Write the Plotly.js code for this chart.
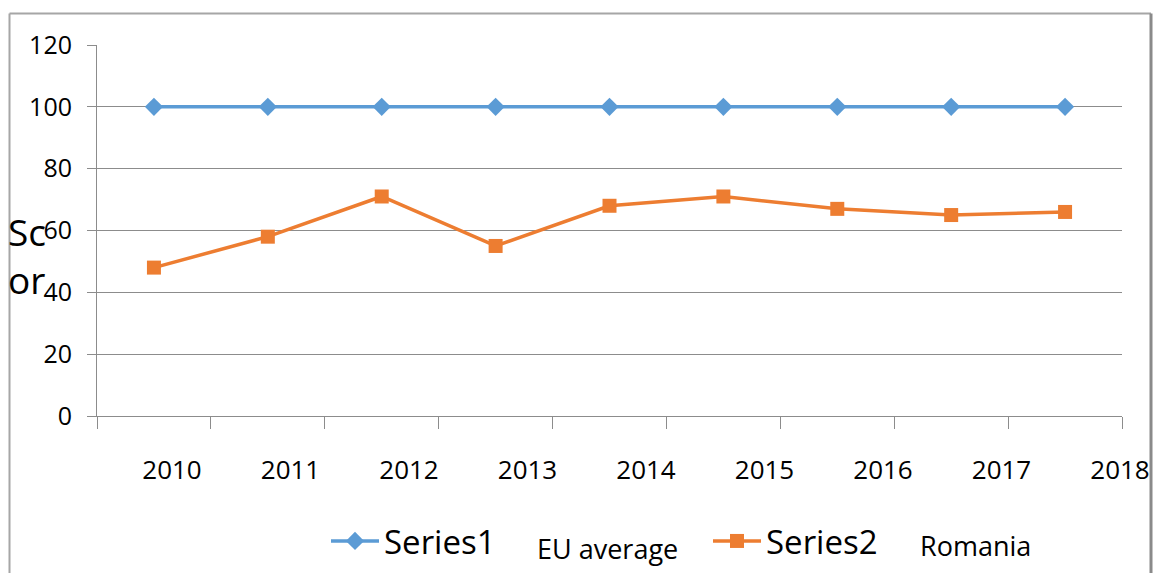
<!DOCTYPE html>
<html>
<head>
<meta charset="utf-8">
<script src="https://cdn.plot.ly/plotly-3.0.1.min.js"></script>
<style>html,body{margin:0;padding:0;background:#fff;}#chart{width:1155px;height:573px;}</style>
</head>
<body>
<div id="chart"></div>
<script>
// ---- data ----
var years = ['2010','2011','2012','2013','2014','2015','2016','2017','2018'];
var series1 = [100,100,100,100,100,100,100,100,100];
var series2 = [48,58,71,55,68,71,67,65,66];
var seriesNames = ['Series1','Series2'];
var seriesLabels = ['EU average','Romania'];
var yAxisTitle = 'Sc<br>or';

// ---- layout helpers (pixel geometry of the reference) ----
var W = 1155, H = 573;
var L = 97, R = 1122, T = 45, B = 416;
function px(x){ return (x - L) / (R - L); }
function py(y){ return (B - y) / (B - T); }

var idx = years.map(function(_, i){ return i; });
// label axis: first label at 172px, step 118.5px
var lblStart = 172, lblStep = 118.5;
var r0 = -(lblStart - L) / lblStep;
var r1 = r0 + (R - L) / lblStep;

var FONT = 'Open Sans, Lato, sans-serif';
var GRID = '#8c8c8c';

var traces = [
  {x: years, y: series1, name: seriesNames[0], type: 'scatter', mode: 'lines+markers',
   line: {color: '#5B9BD5', width: 3.5}, marker: {symbol: 'diamond', size: 14, color: '#5B9BD5'}},
  {x: years, y: series2, name: seriesNames[1], type: 'scatter', mode: 'lines+markers',
   line: {color: '#ED7D31', width: 3.5}, marker: {symbol: 'square', size: 14, color: '#ED7D31'}},
  {x: idx, y: idx.map(function(){ return null; }), xaxis: 'x2', yaxis: 'y', type: 'scatter', mode: 'lines',
   showlegend: false, hoverinfo: 'skip'}
];

var layout = {
  width: W, height: H,
  margin: {l: L, r: W - R, t: T, b: H - B, pad: 0, autoexpand: false},
  paper_bgcolor: '#ffffff', plot_bgcolor: '#ffffff',
  font: {family: FONT, color: '#000'},
  showlegend: true,
  legend: {orientation: 'h', x: px(326), xanchor: 'left', y: py(541), yanchor: 'middle',
           itemwidth: 48,
           font: {family: FONT, size: 33, color: '#000'}, entrywidth: 319, entrywidthmode: 'pixels',
           bgcolor: 'rgba(0,0,0,0)'},
  xaxis: {type: 'category', range: [-0.5, 8.5], tickson: 'boundaries', ticks: 'outside', ticklen: 12,
          tickcolor: GRID, tickwidth: 1, showticklabels: false, showgrid: false, zeroline: false,
          showline: true, linecolor: GRID, linewidth: 1, fixedrange: true},
  xaxis2: {overlaying: 'x', anchor: 'y', side: 'bottom', type: 'linear', range: [r0, r1],
           tickmode: 'array', tickvals: idx, ticktext: years, ticks: '', showgrid: false,
           zeroline: false, showline: false, ticklabelstandoff: 36,
           tickfont: {family: FONT, size: 26, color: '#000'}},
  yaxis: {range: [0, 120], dtick: 20, tick0: 0, ticks: 'outside', ticklen: 9, tickcolor: GRID,
          showgrid: true, gridcolor: GRID, gridwidth: 1, zeroline: false, showline: true,
          linecolor: GRID, linewidth: 1, ticklabelstandoff: 10,
          tickfont: {family: FONT, size: 25, color: '#000'}, fixedrange: true},
  annotations: [
    {text: yAxisTitle, xref: 'paper', yref: 'paper', x: px(6), xanchor: 'left', y: py(255), yanchor: 'middle',
     showarrow: false, align: 'left', font: {family: FONT, size: 37, color: '#000'}},
    {text: seriesLabels[0], xref: 'paper', yref: 'paper', x: px(535), xanchor: 'left', y: py(548), yanchor: 'middle',
     showarrow: false, font: {family: FONT, size: 27, color: '#000'}},
    {text: seriesLabels[1], xref: 'paper', yref: 'paper', x: px(918), xanchor: 'left', y: py(545), yanchor: 'middle',
     showarrow: false, font: {family: FONT, size: 27, color: '#000'}}
  ],
  shapes: [
    {type: 'line', xref: 'paper', yref: 'paper', x0: px(9.5), x1: px(9.5), y0: py(13.5), y1: py(600),
     line: {color: '#a6a6a6', width: 2}},
    {type: 'line', xref: 'paper', yref: 'paper', x0: px(9.5), x1: px(1151), y0: py(13.5), y1: py(13.5),
     line: {color: '#a6a6a6', width: 2}},
    {type: 'line', xref: 'paper', yref: 'paper', x0: px(1151), x1: px(1151), y0: py(13.5), y1: py(600),
     line: {color: '#8a8a8a', width: 3}}
  ]
};

Plotly.newPlot('chart', traces, layout, {displayModeBar: false, staticPlot: true});
</script>
</body>
</html>
